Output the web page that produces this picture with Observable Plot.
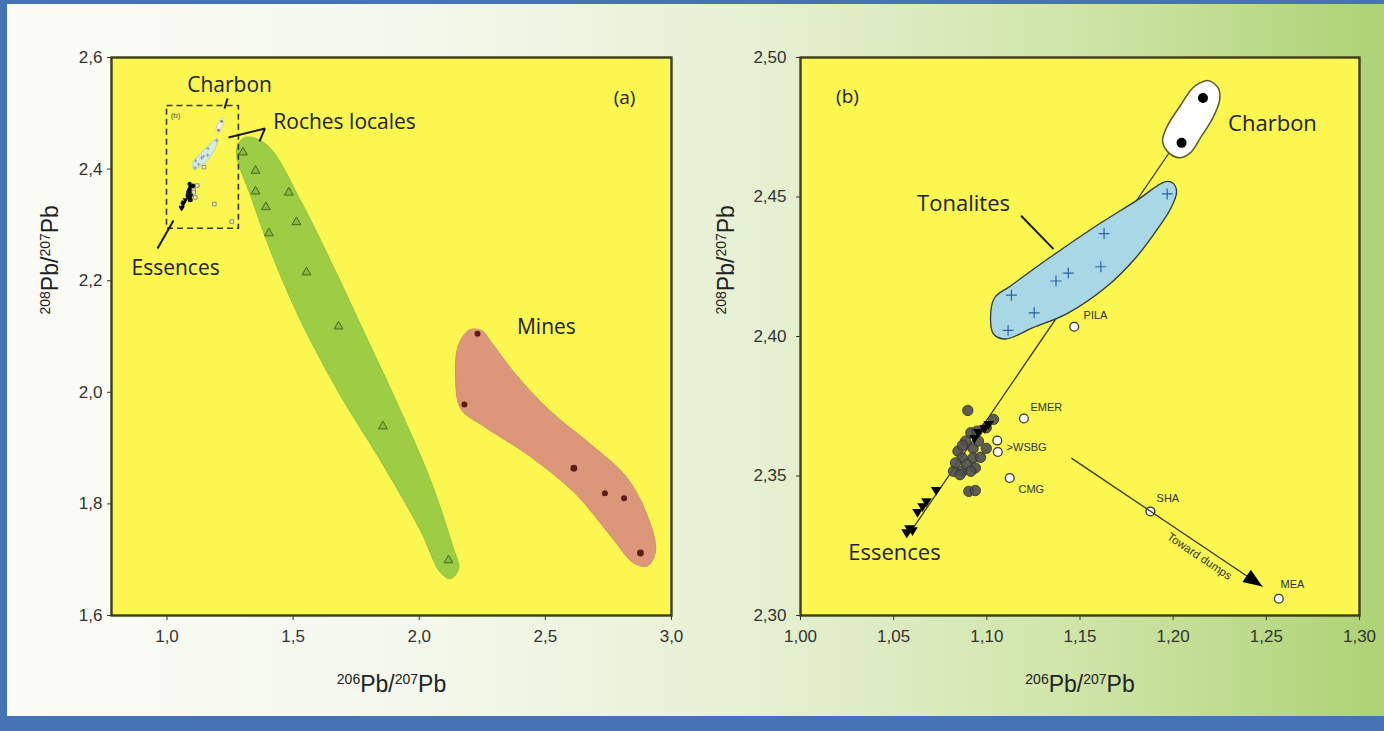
<!DOCTYPE html>
<html>
<head>
<meta charset="utf-8">
<script src="https://cdn.jsdelivr.net/npm/d3@7"></script>
<script src="https://cdn.jsdelivr.net/npm/@observablehq/plot@0.6"></script>
<style>
  html, body { margin: 0; padding: 0; overflow: hidden; }
  #page {
    position: relative; width: 1384px; height: 731px; overflow: hidden;
    background: linear-gradient(to right, #fbfcf7 0%, #f4f8ec 30%, #e6f0d2 55%, #cfe5a8 78%, #aed274 100%);
  }
  #page svg { position: absolute; top: 0; overflow: visible; }
  #border {
    position: absolute; left: 0; top: 0; width: 1384px; height: 731px; box-sizing: border-box;
    border-style: solid; border-color: #4673b3; border-width: 4px 0 15px 7px; pointer-events: none;
  }
</style>
</head>
<body>
<div id="page"><div id="border"></div></div>
<script>
// ---------------- DATA ----------------
// Panel (a)
const ticksXa = [1.0, 1.5, 2.0, 2.5, 3.0];
const ticksYa = [1.6, 1.8, 2.0, 2.2, 2.4, 2.6];
const rochesLocales = [
  {x:1.301,y:2.430},{x:1.351,y:2.397},{x:1.351,y:2.360},{x:1.483,y:2.358},{x:1.392,y:2.332},
  {x:1.513,y:2.305},{x:1.404,y:2.285},{x:1.553,y:2.215},{x:1.680,y:2.118},{x:1.856,y:1.939},{x:2.116,y:1.699}
];
const mines = [
  {x:2.231,y:2.105,r:3.2},{x:2.179,y:1.978,r:3.2},{x:2.613,y:1.864,r:4.2},
  {x:2.736,y:1.819,r:3.2},{x:2.812,y:1.810,r:3.2},{x:2.877,y:1.712,r:4.2}
];
const rochesHull = [
  {x:1.276,y:2.424},{x:1.283,y:2.446},{x:1.311,y:2.457},{x:1.363,y:2.453},{x:1.418,y:2.433},
  {x:1.529,y:2.344},{x:1.648,y:2.236},{x:1.787,y:2.102},{x:1.926,y:1.967},{x:2.045,y:1.842},
  {x:2.132,y:1.725},{x:2.156,y:1.684},{x:2.124,y:1.666},{x:2.084,y:1.677},{x:2.005,y:1.752},
  {x:1.846,y:1.878},{x:1.688,y:1.994},{x:1.529,y:2.129},{x:1.410,y:2.254},{x:1.331,y:2.353}
];
const minesHull = [
  {x:2.200,y:2.112},{x:2.250,y:2.110},{x:2.282,y:2.092},{x:2.381,y:2.033},{x:2.520,y:1.966},
  {x:2.679,y:1.907},{x:2.818,y:1.850},{x:2.897,y:1.787},{x:2.937,y:1.716},{x:2.905,y:1.689},
  {x:2.850,y:1.694},{x:2.760,y:1.742},{x:2.620,y:1.818},{x:2.440,y:1.885},{x:2.260,y:1.938},
  {x:2.165,y:1.970},{x:2.144,y:2.025},{x:2.156,y:2.085}
];
const zoomBox = [{x1:1.0, x2:1.285, y1:2.293, y2:2.513}];
const labelsA = [
  {text:"Charbon", x:1.248, y:2.550, size:21},
  {text:"Roches locales", x:1.704, y:2.4835, size:21},
  {text:"Essences", x:1.034, y:2.222, size:21},
  {text:"Mines", x:2.504, y:2.116, size:21},
  {text:"(a)", x:2.814, y:2.528, size:19}
];
const smallLabelA = [{text:"(b)", x:1.034, y:2.496}];
const pointersA = [
  {x1:1.240, y1:2.5265, x2:1.228, y2:2.5086},
  {x1:1.3885, y1:2.4728, x2:1.2438, y2:2.4566},
  {x1:1.3885, y1:2.4728, x2:1.3667, y2:2.4495},
  {x1:0.9624, y1:2.2577, x2:1.0258, y2:2.3079}
];

// Panel (b)
const ticksXb = [1.00, 1.05, 1.10, 1.15, 1.20, 1.25, 1.30];
const ticksYb = [2.30, 2.35, 2.40, 2.45, 2.50];
const charbon = [{x:1.216,y:2.4855},{x:1.2045,y:2.4694}];
const charbonHull = [
  {x:1.212,y:2.4899},{x:1.219,y:2.4917},{x:1.2243,y:2.4889},{x:1.2249,y:2.4846},{x:1.2211,y:2.4781},
  {x:1.2147,y:2.4713},{x:1.2093,y:2.4659},{x:1.2039,y:2.4641},{x:1.1975,y:2.4659},{x:1.1943,y:2.4702},
  {x:1.1970,y:2.4756},{x:1.2039,y:2.4828},{x:1.2093,y:2.4882}
];
const tonalites = [
  {x:1.1968,y:2.4511},{x:1.1629,y:2.4369},{x:1.1612,y:2.4250},{x:1.1437,y:2.4227},
  {x:1.1371,y:2.4199},{x:1.1132,y:2.4148},{x:1.1254,y:2.4085},{x:1.1114,y:2.4022}
];
const tonalitesHull = [
  {x:1.1959,y:2.4555},{x:1.2002,y:2.4548},{x:1.2018,y:2.4515},{x:1.1986,y:2.4458},{x:1.1921,y:2.4390},
  {x:1.1803,y:2.4285},{x:1.1642,y:2.4178},{x:1.1428,y:2.4081},{x:1.1245,y:2.4031},{x:1.1100,y:2.3991},
  {x:1.1036,y:2.4009},{x:1.1020,y:2.4056},{x:1.1041,y:2.4138},{x:1.1127,y:2.4181},{x:1.1336,y:2.4282},
  {x:1.1572,y:2.4390},{x:1.1803,y:2.4487}
];
const essences = [
  {x:1.0728,y:2.3449},{x:1.0676,y:2.3409},{x:1.0655,y:2.3391},{x:1.0628,y:2.3370},{x:1.0585,y:2.3312},
  {x:1.0569,y:2.3298},{x:1.0601,y:2.3305},{x:1.0955,y:2.3657},{x:1.0987,y:2.3671},{x:1.1009,y:2.3686},
  {x:1.0934,y:2.3636}
];
const autresEchantillons = [
  {x:1.0898,y:2.3735},{x:1.1036,y:2.3703},{x:1.0997,y:2.3673},{x:1.0914,y:2.3655},{x:1.0948,y:2.3661},
  {x:1.0997,y:2.3599},{x:1.0845,y:2.3589},{x:1.0926,y:2.3599},{x:1.0868,y:2.3565},{x:1.0926,y:2.3565},
  {x:1.0821,y:2.3517},{x:1.0868,y:2.3517},{x:1.0938,y:2.3529},{x:1.0891,y:2.3541},{x:1.0856,y:2.3505},
  {x:1.0903,y:2.3445},{x:1.0938,y:2.3448},{x:1.0914,y:2.3517},{x:1.0832,y:2.3547},{x:1.0886,y:2.3625},
  {x:1.0955,y:2.3625},{x:1.0869,y:2.3610},{x:1.0966,y:2.3567}
];
const sites = [
  {name:"EMER",x:1.1199,y:2.3706},{name:"WSBG",x:1.1056,y:2.3627},{name:"WSBG",x:1.1059,y:2.3586},
  {name:"CMG",x:1.1123,y:2.3493},{name:"PILA",x:1.1469,y:2.4035},{name:"SHA",x:1.1878,y:2.3373},
  {name:"MEA",x:1.2567,y:2.3060}
];
const siteLabels = [
  {text:"EMER",x:1.1234,y:2.3747},{text:">WSBG",x:1.1106,y:2.3603},{text:"CMG",x:1.1170,y:2.3452},
  {text:"PILA",x:1.1519,y:2.4074},{text:"SHA",x:1.1911,y:2.3420},{text:"MEA",x:1.2576,y:2.3111}
];
const mixingLine = [{x:1.057,y:2.328},{x:1.1975,y:2.4655}];
const dumpsArrow = [{x1:1.1454,y1:2.3564,x2:1.2479,y2:2.3104}];
const dumpsLabel = [{text:"Toward dumps",x:1.2141,y:2.3212}];
const labelsB = [
  {text:"Charbon", x:1.2533, y:2.4763},
  {text:"Tonalites", x:1.0875, y:2.4476},
  {text:"Essences", x:1.0504, y:2.3223},
  {text:"(b)", x:1.0252, y:2.4860}
];
const pointersB = [{x1:1.1184,y1:2.4433,x2:1.1358,y2:2.4313}];
const axisTitle = "206Pb/207Pb";
const axisTitleY = "208Pb/207Pb";

// ---------------- STYLE / LAYOUT ----------------
const W = 692, H = 731, MT = 57, MB = 116;
const yellow = "#fbf650", frameStroke = "#3d3d1a", ink = "#222";
const labelFont = "'Open Sans', 'Noto Sans', sans-serif";
const tickFont = "'Liberation Sans', Arial, sans-serif";
const fmt1 = d => d.toFixed(1).replace(".", ",");
const fmt2 = d => d.toFixed(2).replace(".", ",");

const triDown = { draw(ctx, size) { const r = Math.sqrt(size / Math.PI) * 1.15;
  ctx.moveTo(-r, -r * 0.6); ctx.lineTo(r, -r * 0.6); ctx.lineTo(0, r * 1.05); ctx.closePath(); } };

const bML = 108, bMR = 25;
const kx = (W - bML - bMR) / (1.30 - 1.00), ky = (H - MT - MB) / (2.50 - 2.30);
const a0 = dumpsArrow[0];
const theta = Math.atan2((a0.y1 - a0.y2) * ky, (a0.x2 - a0.x1) * kx);
const arrowHead = { draw(ctx) { const L = 19, Wd = 7.5, c = Math.cos(theta), s = Math.sin(theta);
  const bx = -L * c, by = -L * s;
  ctx.moveTo(0, 0); ctx.lineTo(bx - Wd * s, by + Wd * c); ctx.lineTo(bx + Wd * s, by - Wd * c); ctx.closePath(); } };

function axisTitles(dxY) {
  return [
    Plot.text([axisTitle], {text: d => d, frameAnchor: "bottom", dy: 69, fontSize: 23, fontFamily: tickFont, fill: ink, lineAnchor: "middle"}),
    Plot.text([axisTitleY], {text: d => d, frameAnchor: "left", dx: dxY, dy: -22, rotate: -90, fontSize: 23, fontFamily: tickFont, fill: ink, lineAnchor: "middle"})
  ];
}

// ---------------- PANEL (a) ----------------
const plotA = Plot.plot({
  width: W, height: H, marginTop: MT, marginBottom: MB, marginLeft: 111, marginRight: 21,
  style: {background: "transparent", fontFamily: tickFont, fontSize: "17px", color: "#333", overflow: "visible"},
  x: {domain: [0.78, 3.0], ticks: ticksXa, tickFormat: fmt1, tickSize: 5, tickPadding: 9, label: null},
  y: {domain: [1.6, 2.6], ticks: ticksYa, tickFormat: fmt1, tickSize: 4, tickPadding: 5, label: null},
  marks: [
    Plot.frame({fill: yellow, stroke: "none"}),
    Plot.line(rochesHull, {x: "x", y: "y", curve: "catmull-rom-closed", fill: "#9ccd45", stroke: "#93c540", strokeWidth: 1}),
    Plot.line(minesHull, {x: "x", y: "y", curve: "catmull-rom-closed", fill: "#dc977b", stroke: "#d28d70", strokeWidth: 1}),
    Plot.rect(zoomBox, {x1: "x1", x2: "x2", y1: "y1", y2: "y2", fill: "none", stroke: "#3a3a18", strokeWidth: 1.6, strokeDasharray: "6,4"}),
    Plot.line(tonalitesHull, {x: "x", y: "y", curve: "catmull-rom-closed", fill: "#d6ebe4", stroke: "#a9c9c9", strokeWidth: 0.8}),
    Plot.line(charbonHull, {x: "x", y: "y", curve: "catmull-rom-closed", fill: "#f1f3e2", stroke: "#c8c8b0", strokeWidth: 0.8}),
    Plot.dot(tonalites, {x: "x", y: "y", symbol: "plus", r: 1.3, stroke: "#7a9aa8", strokeWidth: 0.8}),
    Plot.dot(charbon, {x: "x", y: "y", r: 1.4, fill: "#777", stroke: "none"}),
    Plot.dot(autresEchantillons, {x: "x", y: "y", r: 2.2, fill: "#111", stroke: "none"}),
    Plot.dot(essences, {x: "x", y: "y", symbol: triDown, r: 2.4, fill: "#000", stroke: "none"}),
    Plot.dot(sites, {x: "x", y: "y", symbol: "square", r: 2, fill: "#f6f3c8", stroke: "#666", strokeWidth: 0.7}),
    Plot.dot(rochesLocales, {x: "x", y: "y", symbol: "triangle", r: 3.3, fill: "#86bb3c", stroke: "#3f6a22", strokeWidth: 1}),
    Plot.dot(mines, {x: "x", y: "y", r: "r", fill: "#5e1c14", stroke: "none"}),
    Plot.link(pointersA, {x1: "x1", y1: "y1", x2: "x2", y2: "y2", stroke: "#1a1a1a", strokeWidth: 2}),
    Plot.text(labelsA, {x: "x", y: "y", text: "text", fontSize: d => d.size, fontFamily: labelFont, fill: ink}),
    Plot.text(smallLabelA, {x: "x", y: "y", text: "text", fontSize: 8, fontFamily: tickFont, fill: "#555"}),
    ...axisTitles(-61),
    Plot.frame({stroke: frameStroke, strokeWidth: 2.4})
  ]
});

// ---------------- PANEL (b) ----------------
const plotB = Plot.plot({
  width: W, height: H, marginTop: MT, marginBottom: MB, marginLeft: bML, marginRight: bMR,
  style: {background: "transparent", fontFamily: tickFont, fontSize: "17px", color: "#333", overflow: "visible"},
  x: {domain: [1.00, 1.30], ticks: ticksXb, tickFormat: fmt2, tickSize: 5, tickPadding: 9, label: null},
  y: {domain: [2.30, 2.50], ticks: ticksYb, tickFormat: fmt2, tickSize: 4, tickPadding: 10, label: null},
  marks: [
    Plot.frame({fill: yellow, stroke: "none"}),
    Plot.line(mixingLine, {x: "x", y: "y", stroke: "#3a3a12", strokeWidth: 1.3}),
    Plot.line(tonalitesHull, {x: "x", y: "y", curve: "catmull-rom-closed", fill: "#a9d7e6", stroke: "#2e3a30", strokeWidth: 1.3}),
    Plot.line(charbonHull, {x: "x", y: "y", curve: "catmull-rom-closed", fill: "#ffffff", stroke: "#5b5a28", strokeWidth: 1.5}),
    Plot.dot(tonalites, {x: "x", y: "y", symbol: "plus", r: 3.6, stroke: "#2a62a6", strokeWidth: 1.2}),
    Plot.dot(charbon, {x: "x", y: "y", r: 5, fill: "#000", stroke: "none"}),
    Plot.dot(autresEchantillons, {x: "x", y: "y", r: 5.2, fill: "#4f4f52", fillOpacity: 0.92, stroke: "#2c2c2c", strokeWidth: 0.8}),
    Plot.dot(essences, {x: "x", y: "y", symbol: triDown, r: 4.6, fill: "#000", stroke: "none"}),
    Plot.dot(sites, {x: "x", y: "y", r: 4.4, fill: "#ffffff", stroke: "#333", strokeWidth: 1.3}),
    Plot.text(siteLabels, {x: "x", y: "y", text: "text", textAnchor: "start", fontSize: 11, fontFamily: tickFont, fill: "#333"}),
    Plot.link(dumpsArrow, {x1: "x1", y1: "y1", x2: "x2", y2: "y2", stroke: "#3a3a12", strokeWidth: 1.3}),
    Plot.dot(dumpsArrow, {x: "x2", y: "y2", symbol: arrowHead, fill: "#000", stroke: "none"}),
    Plot.text(dumpsLabel, {x: "x", y: "y", text: "text", rotate: theta * 180 / Math.PI, fontSize: 11.5, fontFamily: tickFont, fill: "#333"}),
    Plot.link(pointersB, {x1: "x1", y1: "y1", x2: "x2", y2: "y2", stroke: "#1a1a1a", strokeWidth: 2}),
    Plot.text(labelsB, {x: "x", y: "y", text: "text", fontSize: d => d.text === "(b)" ? 19 : 22, fontFamily: labelFont, fill: ink}),
    ...axisTitles(-74),
    Plot.frame({stroke: frameStroke, strokeWidth: 2.4})
  ]
});

// superscript isotope numbers in axis titles
function supify(svg) {
  svg.querySelectorAll("text").forEach(t => {
    const m = /^(\d{3})Pb\/(\d{3})Pb$/.exec(t.textContent);
    if (!m) return;
    while (t.firstChild) t.removeChild(t.firstChild);
    [[m[1], true], ["Pb/", false], [m[2], true], ["Pb", false]].forEach(([s, sup]) => {
      const ts = document.createElementNS("http://www.w3.org/2000/svg", "tspan");
      ts.textContent = s;
      if (sup) { ts.setAttribute("font-size", 14); ts.setAttribute("dy", "-8"); }
      else { ts.setAttribute("dy", "8"); }
      t.appendChild(ts);
    });
  });
}
supify(plotA); supify(plotB);

plotA.style.left = "0px";
plotB.style.left = W + "px";
const page = document.getElementById("page");
page.insertBefore(plotA, page.firstChild);
page.insertBefore(plotB, page.firstChild.nextSibling);
</script>
</body>
</html>
